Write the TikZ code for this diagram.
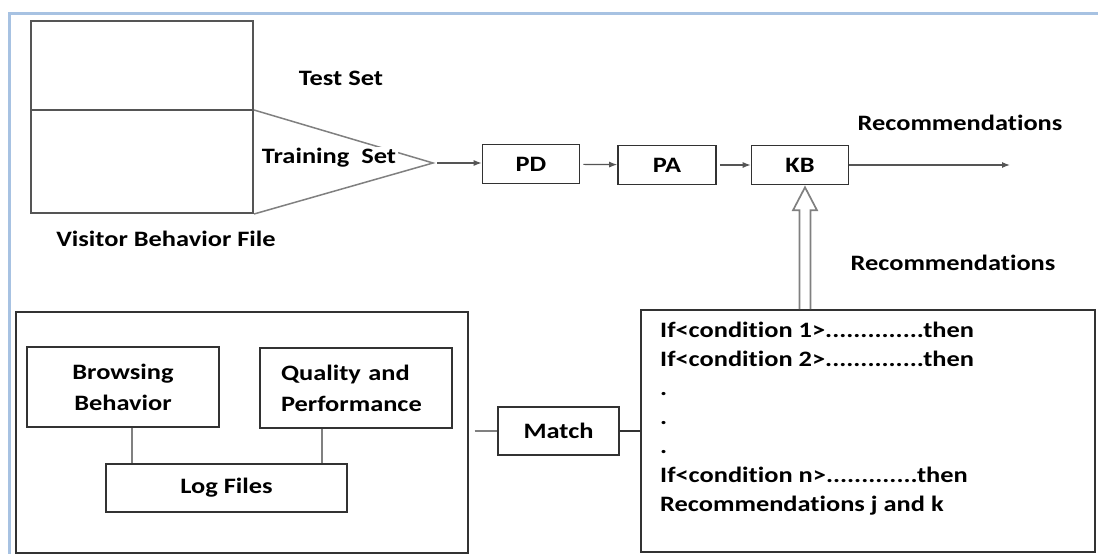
\documentclass[tikz,border=0pt]{standalone}
\usepackage{fontspec}
\setmainfont{Carlito}[FakeStretch=1.2, Ligatures={TeX,NoCommon}]
\usetikzlibrary{calc,arrows.meta}
\definecolor{framebl}{RGB}{167,194,226}
\definecolor{edge}{RGB}{50,50,50}
\definecolor{soft}{RGB}{128,128,128}
\definecolor{flowc}{RGB}{85,85,85}
\begin{document}
\begin{tikzpicture}[x=1pt,y=-1pt,
  lbl/.style={font=\fontsize{22}{29}\selectfont\bfseries, inner sep=0pt},
  box/.style={draw=edge, line width=1.6pt, fill=white, inner sep=0pt,
              font=\fontsize{22}{31}\selectfont\bfseries},
  flow/.style={draw=flowc, line width=1.2pt, -{Latex[length=8pt,width=6pt]}},
  link/.style={draw=soft, line width=2pt},
  hollow/.style={draw=soft, line width=1.7pt, line join=miter},
  frameline/.style={draw=framebl, line width=3pt}]

\useasboundingbox[fill=white] (0,0) rectangle (1098,554);

% page frame
\draw[frameline] (9,554) -- (9,13) -- (1098,13);

% visitor behaviour file split into test / training parts
\node[draw=flowc, line width=2pt, minimum width=222pt, minimum height=192pt,
      anchor=north west, inner sep=0pt] (vbf) at (30,20) {};
\draw[draw=flowc, line width=1.4pt] (vbf.west |- 0,110) -- (vbf.east |- 0,110);
\coordinate (apex) at (433,163);
\draw[draw=soft, line width=1.5pt] (vbf.east |- 0,110) -- (apex) -- (vbf.south east);

\node[lbl] (test) at (341,78) {Test Set};
\node[lbl, fill=white, inner sep=1.5pt] (train) at (329,158) {Training\ \ Set};
\node[lbl] (vbfl) at (166,239) {Visitor Behavior File};

% processing chain
\node[box, minimum width=97pt, minimum height=39pt] (pd) at (531,164) {PD};
\node[box, minimum width=98pt, minimum height=39pt] (pa) at (667,165) {PA};
\node[box, minimum width=97pt, minimum height=39pt] (kb) at (800,165) {KB};
\coordinate (out) at (1010,165);

\draw[flow, shorten <=4pt] (apex) -- (pd.west |- apex);
\draw[flow, shorten <=3pt] (pd) -- (pa);
\draw[flow, shorten <=3pt] (pa) -- (kb);
\draw[flow] (kb) -- (out);

\node[lbl] (rec1) at (960,123) {Recommendations};
\node[lbl] (rec2) at (953,263) {Recommendations};

% log-file subsystem
\node[box, anchor=north west, minimum width=452pt, minimum height=241pt] (logsys) at (15,311) {};
\node[box, align=center, minimum width=192pt, minimum height=80pt] (bb) at (123,387)
     {Browsing\\Behavior};
\node[box, align=left, text width=150pt, inner xsep=21pt, minimum height=80pt] (qp) at (356,388)
     {Quality and\\Performance};
\node[box, minimum width=241pt, minimum height=48pt] (lf) at (226.5,488) {Log Files};

\coordinate (bbfoot) at ($(bb.south west)+(106,0)$);
\coordinate (qpfoot) at ($(qp.south west)+(63,0)$);
\draw[link] (bbfoot) -- (bbfoot |- lf.north);
\draw[link] (qpfoot) -- (qpfoot |- lf.north);

% matching against the rule base
\node[box, minimum width=121pt, minimum height=48pt] (match) at (558.5,431) {Match};
\node[box, anchor=north west, minimum width=454pt, minimum height=242pt] (rules) at (640,309) {};

\draw[link, shorten <=6pt] (logsys.east |- match) -- (match.west);
\draw[draw=edge, line width=1.5pt] (match.east) -- (rules.west |- match);

\node[lbl, anchor=base west] (r1) at (660,337) {If<condition 1>..............then};
\node[lbl, anchor=base west] (r2) at (660,366) {If<condition 2>..............then};
\node[lbl, anchor=base west] (r3) at (660,395) {.};
\node[lbl, anchor=base west] (r4) at (660,424) {.};
\node[lbl, anchor=base west] (r5) at (660,453) {.};
\node[lbl, anchor=base west] (r6) at (660,482) {If<condition n>.............then};
\node[lbl, anchor=base west] (r7) at (660,511) {Recommendations j and k};

% hollow double arrow from the rules up to the knowledge base
\coordinate (tip) at ($(kb.south)+(5,2)$);
\coordinate (shl) at ($(tip)+(-5.5,0)$);
\coordinate (shr) at ($(tip)+(5.5,0)$);
\draw[hollow]
  (shl |- rules.north) -- ($(tip)+(-5.5,23)$) -- ($(tip)+(-12,23)$)
  -- (tip) -- ($(tip)+(12,23)$) -- ($(tip)+(5.5,23)$) -- (shr |- rules.north);

\end{tikzpicture}
\end{document}
